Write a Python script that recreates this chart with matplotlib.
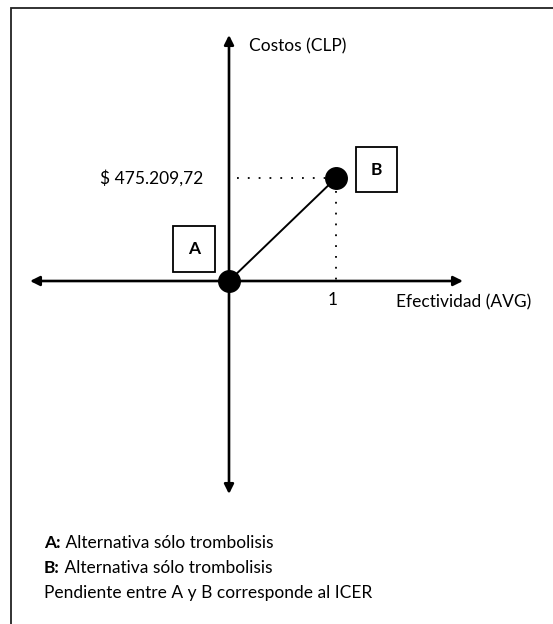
import matplotlib.pyplot as plt
from matplotlib.patches import Rectangle

# data: A = reference alternative at origin, B = incremental point
labels = ["A", "B"]
efectividad = [0, 1]          # AVG (incremental)
costos = [0, 475209.72]       # CLP (incremental)
cost_label = "$ 475.209,72"
x_label = "Efectividad (AVG)"
y_label = "Costos (CLP)"
notes = [("A:", " Alternativa sólo trombolisis"),
         ("B:", " Alternativa sólo trombolisis"),
         ("", "Pendiente entre A y B corresponde al ICER")]

plt.rcParams['font.family'] = ['Lato', 'DejaVu Sans']
FS = 12.5

W, H = 553, 624
fig = plt.figure(figsize=(W / 100, H / 100), dpi=100)
ax = fig.add_axes([0, 0, 1, 1])
ax.axis('off')

# pixel layout of the diagram: origin and unit sizes
ox, oy = 229, 281
sx, sy = 107, 103
ax.set_xlim(-ox / sx, (W - ox) / sx)
ax.set_ylim(-(H - oy) / sy * costos[1], oy / sy * costos[1])


def px(x):
    return (x - ox) / sx


def py(y):
    return (oy - y) / sy * costos[1]


# outer frame (only top and left edges are visible)
fig.patches.append(Rectangle((11 / W, -0.1), 1.2, 1 - 8 / H + 0.1,
                             transform=fig.transFigure, fill=False,
                             edgecolor='#222222', lw=1.3))

# axes with arrows
arrow = dict(arrowstyle='<|-|>', color='black', lw=1.9,
             mutation_scale=14, shrinkA=0, shrinkB=0)
ax.annotate('', xy=(px(30), 0), xytext=(px(463), 0), arrowprops=arrow)
ax.annotate('', xy=(0, py(35)), xytext=(0, py(494)), arrowprops=arrow)

# reference dotted lines to B
ax.plot([px(237), efectividad[1] - 0.1], [costos[1], costos[1]],
        ls=(0, (1, 5)), color='black', lw=1.3)
ax.plot([efectividad[1], efectividad[1]], [costos[1] - py(268), 0],
        ls=(0, (1, 5)), color='black', lw=1.3)

# line A-B and points
ax.plot(efectividad, costos, color='black', lw=1.4, zorder=3)
ax.plot(efectividad, costos, 'o', color='black', ms=15.5, zorder=4)

# boxed labels
box = dict(boxstyle='square,pad=0.85', fc='white', ec='black', lw=1.3)
offsets = [(-25, 23), (29, 6)]
for lab, x, y, off in zip(labels, efectividad, costos, offsets):
    ax.annotate(lab, (x, y), xytext=off, textcoords='offset points',
                ha='center', va='center', fontsize=FS, fontweight='bold',
                bbox=box)

# axis texts
ax.text(px(249), py(46), y_label, fontsize=FS, ha='left', va='center')
ax.text(px(396), py(302), x_label, fontsize=FS, ha='left', va='center')
ax.text(px(203), costos[1], cost_label, fontsize=FS, ha='right', va='center')
ax.text(efectividad[1] - 0.03, py(300), "1", fontsize=FS, ha='center', va='center')

# notes at the bottom
ys = [543, 568, 593]
for (b, t), y in zip(notes, ys):
    if b:
        tb = ax.text(px(44), py(y), b, fontsize=FS, fontweight='bold',
                     ha='left', va='center')
        ax.annotate(t, xy=(1, 0.5), xycoords=tb, fontsize=FS,
                    ha='left', va='center')
    else:
        ax.text(px(44), py(y), t, fontsize=FS, ha='left', va='center')

fig.savefig('out.png', dpi=100)
